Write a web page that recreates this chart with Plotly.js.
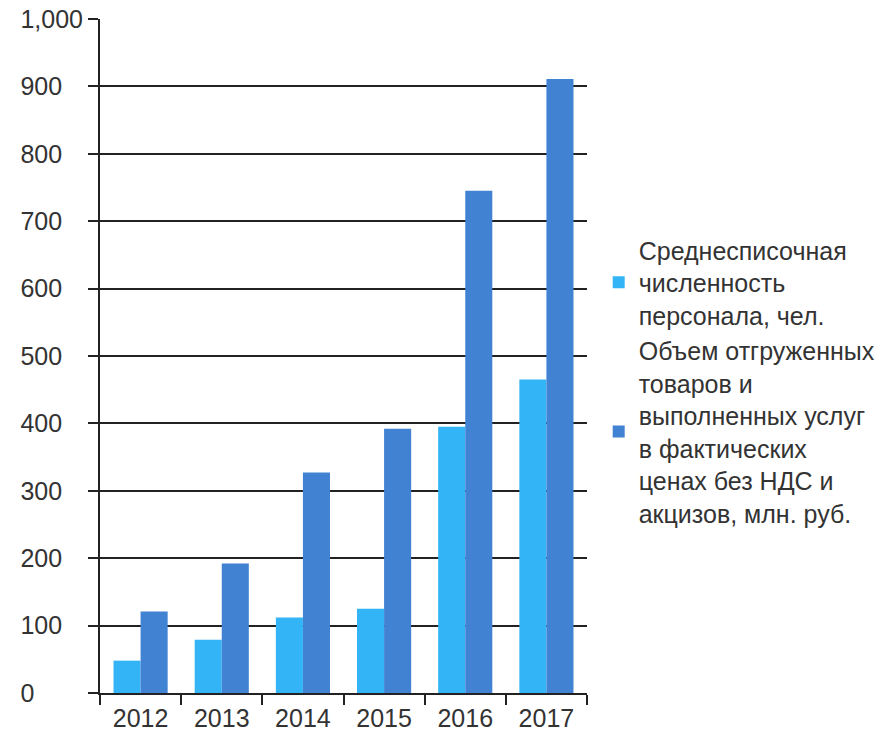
<!DOCTYPE html>
<html>
<head>
<meta charset="utf-8">
<script src="https://cdn.plot.ly/plotly-3.0.1.min.js"></script>
<style>html,body{margin:0;padding:0;background:#fff;}#chart{width:894px;height:734px;}</style>
</head>
<body>
<div id="chart"></div>
<script>
const years = ['2012', '2013', '2014', '2015', '2016', '2017'];
const staff = [48, 79, 112, 125, 395, 465];
const shipped = [121, 192, 327, 392, 745, 911];
const yTicks = [0, 100, 200, 300, 400, 500, 600, 700, 800, 900, 1000];
const seriesNames = [
  'Среднесписочная<br>численность<br>персонала, чел.',
  'Объем отгруженных<br>товаров и<br>выполненных услуг<br>в фактических<br>ценах без НДС и<br>акцизов, млн. руб.'
];
const colors = ['#33b4f6', '#4282d2'];

// left-aligned y tick labels: pad with figure spaces (digit width) and punctuation space (comma width)
function fmt(v) { return v.toLocaleString('en-US'); }
const maxLabel = fmt(Math.max(...yTicks));
function padLabel(v) {
  const s = fmt(v);
  const digitsMissing = maxLabel.replace(/,/g, '').length - s.replace(/,/g, '').length;
  const commasMissing = (maxLabel.match(/,/g) || []).length - (s.match(/,/g) || []).length;
  return s + '\u2007'.repeat(digitsMissing) + '\u2008'.repeat(commasMissing);
}
const yTickText = yTicks.map(padLabel);

const traces = [
  {type: 'bar', x: years, y: staff, name: seriesNames[0], marker: {color: colors[0]}},
  {type: 'bar', x: years, y: shipped, name: seriesNames[1], marker: {color: colors[1]}}
];

const layout = {
  width: 894, height: 734,
  margin: {l: 100, r: 307, t: 19, b: 41},
  paper_bgcolor: '#fff', plot_bgcolor: '#fff',
  font: {family: 'Liberation Sans, Arial, sans-serif', size: 25, color: '#333'},
  barmode: 'group', bargap: 0.333, bargroupgap: 0,
  showlegend: true,
  legend: {x: 1.024, xanchor: 'left', y: 0.462, yanchor: 'middle', font: {size: 25, color: '#333'}, bgcolor: 'rgba(0,0,0,0)', tracegroupgap: 0},
  xaxis: {
    type: 'category', showgrid: false, showline: true, linecolor: '#222', linewidth: 2,
    ticks: 'outside', ticklen: 10, tickwidth: 2, tickcolor: '#222', tickson: 'boundaries',
    tickfont: {size: 25, color: '#333'}, zeroline: false, fixedrange: true, ticklabelstandoff: 2
  },
  yaxis: {
    range: [0, 1000], tickvals: yTicks, ticktext: yTickText, showgrid: true, gridcolor: '#222', gridwidth: 2,
    showline: true, linecolor: '#222', linewidth: 2, ticks: 'outside', ticklen: 10, tickwidth: 2, tickcolor: '#222',
    zeroline: false, tickfont: {size: 25, color: '#333'}, fixedrange: true
  }
};

Plotly.newPlot('chart', traces, layout, {displayModeBar: false, staticPlot: true});
</script>
</body>
</html>
